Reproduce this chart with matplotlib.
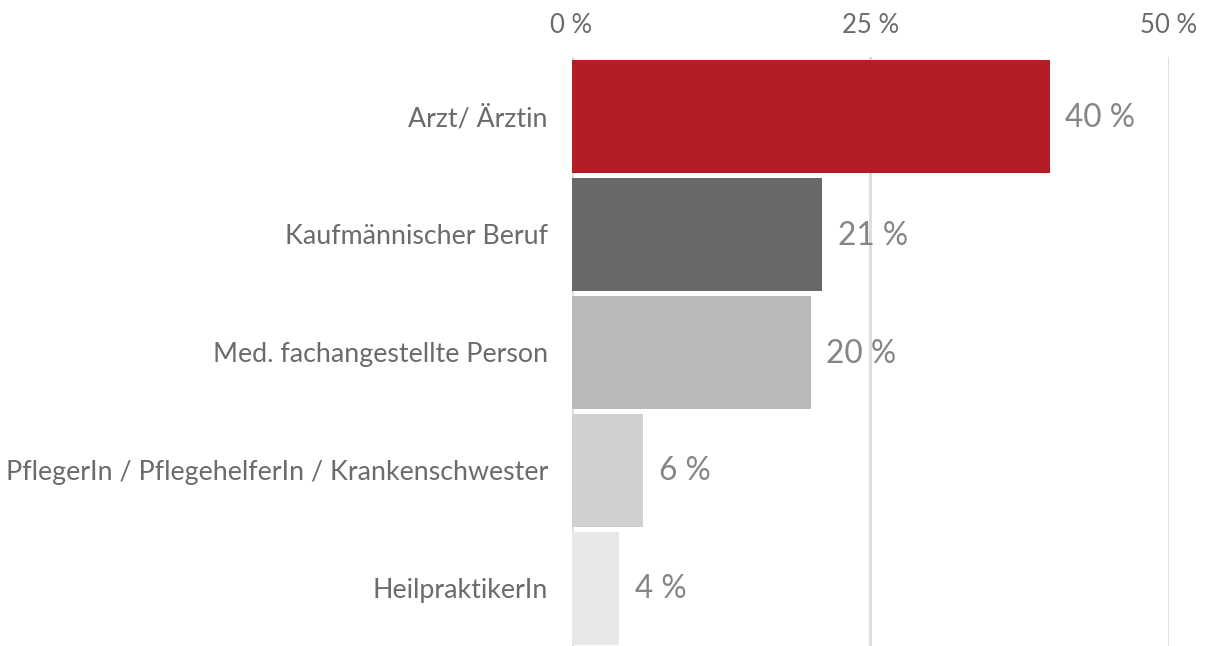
#!/usr/bin/env python3
#-*- coding: utf-8 -*-

import matplotlib
matplotlib.use('Agg')
import matplotlib.pyplot as plt
import numpy as np

plt.rcParams['font.family'] = ['Lato', 'DejaVu Sans']

berufe = ['Arzt/ Ärztin', 'Kaufmännischer Beruf', 'Med. fachangestellte Person',
          'PflegerIn / PflegehelferIn / Krankenschwester', 'HeilpraktikerIn']
anteile = [40, 21, 20, 6, 4]
farben = ['#b31e25', '#686868', '#b9b9b9', '#d0d0d0', '#e8e8e8']
ticks = [0, 25, 50]

text_col = '#6b6b6b'

fig = plt.figure(figsize=(12.06, 6.46), dpi=100)
ax = fig.add_axes([571.5/1206, 0, (1169-571.5)/1206, 589/646])

y = np.arange(len(berufe))
ax.barh(y, anteile, height=0.96, color=farben, zorder=3)

# Werte rechts neben den Balken
for yi, v in zip(y, anteile):
    ax.text(v + 1.3, yi + 0.01, f'{v} %', va='center', ha='left', fontsize=22.8, color='#858585')

ax.set_xlim(0, 50)
ax.set_ylim(4.49, -0.505)
ax.set_xticks(ticks)
ax.set_xticklabels([f'{t} %' for t in ticks])
ax.xaxis.tick_top()
ax.tick_params(axis='x', length=0, pad=14, labelsize=18.5, labelcolor=text_col)
ax.set_yticks(y)
ax.set_yticklabels(berufe)
ax.tick_params(axis='y', length=0, pad=17, labelsize=19.3, labelcolor=text_col)
ax.grid(axis='x', color='#dcdcdc', linewidth=2, zorder=0)
for s in ax.spines.values():
    s.set_visible(False)

plt.savefig('out.png', dpi=100)
